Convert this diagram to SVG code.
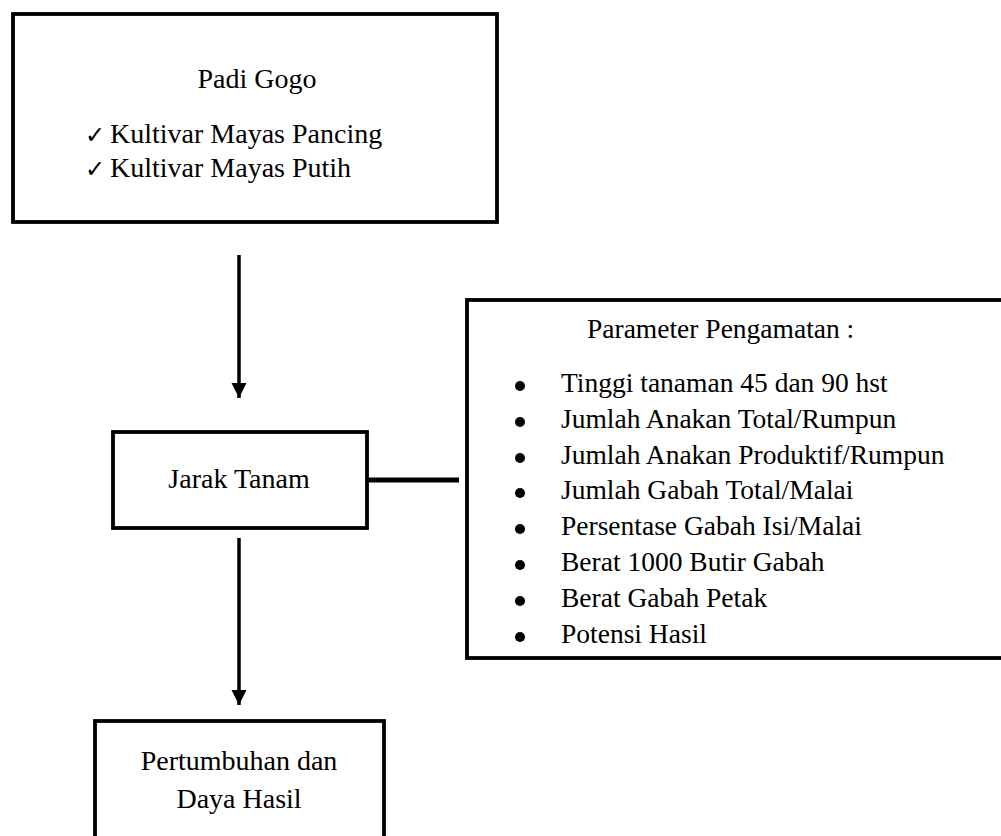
<svg xmlns="http://www.w3.org/2000/svg" width="1001" height="836" viewBox="0 0 1001 836">
<style>
.box{fill:none;stroke:#000;stroke-width:3.8}
.t{font-family:"Liberation Serif","Times New Roman",serif;font-size:28px;fill:#000}
.l{font-family:"Liberation Serif","Times New Roman",serif;font-size:27.5px;fill:#000}
.ck{font-family:"DejaVu Sans",sans-serif;font-size:24px;fill:#000}
.c{stroke:#000;stroke-width:3.5;fill:none}
.b{fill:#000}
</style>
<defs>
<marker id="ah" markerWidth="16" markerHeight="16" refX="15" refY="7.5" orient="auto" markerUnits="userSpaceOnUse">
<path d="M0,0 L15,7.5 L0,15 Z" fill="#000"/>
</marker>
</defs>
<rect width="1001" height="836" fill="#fff"/>
<g id="connectors">
<line class="c" x1="239" y1="255" x2="239" y2="398" marker-end="url(#ah)"/>
<line class="c" x1="239" y1="538" x2="239" y2="705" marker-end="url(#ah)"/>
<line x1="367" y1="480" x2="459" y2="480" stroke="#000" stroke-width="5"/>
</g>
<g id="padi-gogo">
<rect class="box" x="13" y="14" width="484" height="208"/>
<text class="t" x="257" y="88" text-anchor="middle">Padi Gogo</text>
<text class="ck" x="85" y="143">✓</text>
<text class="t" x="110" y="143">Kultivar Mayas Pancing</text>
<text class="ck" x="85" y="177">✓</text>
<text class="t" x="110" y="177">Kultivar Mayas Putih</text>
</g>
<g id="jarak-tanam">
<rect class="box" x="113" y="432" width="254" height="96"/>
<text class="t" x="239" y="488" text-anchor="middle">Jarak Tanam</text>
</g>
<g id="parameter">
<rect class="box" x="467" y="300" width="540" height="358"/>
<text class="l" x="587" y="338">Parameter Pengamatan :</text>
<g class="b">
<circle cx="520" cy="386" r="5"/>
<circle cx="520" cy="422" r="5"/>
<circle cx="520" cy="458" r="5"/>
<circle cx="520" cy="493" r="5"/>
<circle cx="520" cy="529" r="5"/>
<circle cx="520" cy="565" r="5"/>
<circle cx="520" cy="601" r="5"/>
<circle cx="520" cy="637" r="5"/>
</g>
<g class="l">
<text x="561" y="392">Tinggi tanaman 45 dan 90 hst</text>
<text x="561" y="428">Jumlah Anakan Total/Rumpun</text>
<text x="561" y="464">Jumlah Anakan Produktif/Rumpun</text>
<text x="561" y="499">Jumlah Gabah Total/Malai</text>
<text x="561" y="535">Persentase Gabah Isi/Malai</text>
<text x="561" y="571">Berat 1000 Butir Gabah</text>
<text x="561" y="607">Berat Gabah Petak</text>
<text x="561" y="643">Potensi Hasil</text>
</g>
</g>
<g id="pertumbuhan">
<rect class="box" x="95" y="721" width="289" height="130"/>
<text class="t" x="239" y="770" text-anchor="middle">Pertumbuhan dan</text>
<text class="t" x="239" y="808" text-anchor="middle">Daya Hasil</text>
</g>
</svg>
